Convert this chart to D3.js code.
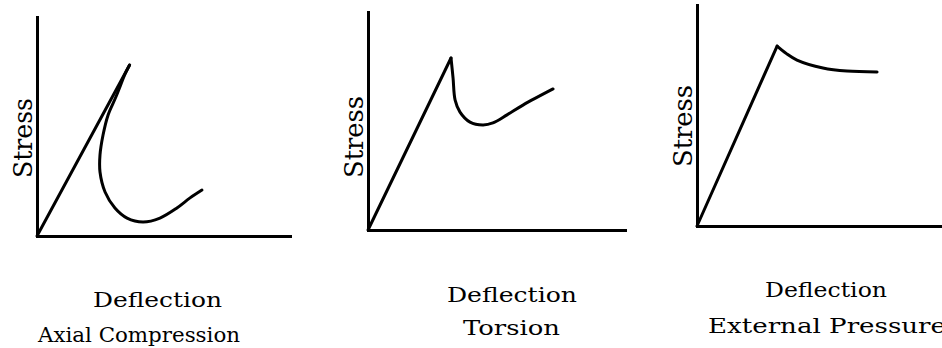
<!DOCTYPE html>
<html>
<head>
<meta charset="utf-8">
<script src="https://cdn.jsdelivr.net/npm/d3@7/dist/d3.min.js"></script>
<style>
  html, body { margin: 0; padding: 0; background: #fff; }
  svg { display: block; }
  .lab { font-family: "DejaVu Serif", "Liberation Serif", serif; font-weight: normal; fill: #000; }
</style>
</head>
<body>
<svg id="chart" width="942" height="348"></svg>
<script>
// Axis titles and load cases
const yTitle = "Stress";
const xTitle = "Deflection";
const loadCases = ["Axial Compression", "Torsion", "External Pressure"];

// Curves in relative units (deflection 0–100, stress 0–100)
const axialElastic = [[0, 0], [36.6, 78.1]];
const axialPostBuckling = [
  [36.6, 78.1], [34.6, 73.5], [32.6, 67.6], [31.0, 63.0], [28.1, 55.3],
  [26.1, 46.1], [24.9, 37.0], [24.9, 29.2], [26.9, 20.1], [30.8, 12.8],
  [35.6, 8.2], [41.9, 6.4], [48.6, 8.2], [55.3, 12.8], [60.5, 17.4], [65.2, 21.0]
];

const torsionElastic = [[0, 0], [32.3, 78.9]];
const torsionPostBuckling = [
  [32.3, 78.9], [33.1, 69.7], [33.9, 59.6], [35.8, 54.1], [39.7, 49.5],
  [44.7, 48.2], [48.6, 49.1], [54.1, 52.8], [60.3, 57.3], [72.0, 64.7]
];

const pressureElastic = [[0, 0], [32.7, 81.4]];
const pressurePostBuckling = [
  [32.7, 81.4], [36.5, 78.0], [40.8, 75.1], [51.4, 71.5], [61.2, 70.1], [73.5, 69.7]
];

// Panel frames: origin, axis ends and label placement [x, y, width] in pixels
const frames = [
  { x0: 37, x1: 290, y0: 236, y1: 17, yLab: [32, 138, 80],
    xLab: [157.5, 307, 129], caseLab: [139, 342, 202] },
  { x0: 368, x1: 625, y0: 230, y1: 12, yLab: [363, 137, 82],
    xLab: [512, 302, 130], caseLab: [511.5, 335, 97] },
  { x0: 697, x1: 942, y0: 226, y1: 5, yLab: [692, 126, 82],
    xLab: [826, 297, 122], caseLab: [827, 333, 238] }
];

const series = [
  { elastic: axialElastic, post: axialPostBuckling },
  { elastic: torsionElastic, post: torsionPostBuckling },
  { elastic: pressureElastic, post: pressurePostBuckling }
];

const svg = d3.select("#chart");

frames.forEach((f, i) => {
  const x = d3.scaleLinear().domain([0, 100]).range([f.x0, f.x1]);
  const y = d3.scaleLinear().domain([0, 100]).range([f.y0, f.y1]);
  const g = svg.append("g").attr("class", "panel");

  // Axes: bare lines without ticks
  const xAxis = g.append("g")
    .attr("transform", `translate(0,${f.y0})`)
    .call(d3.axisBottom(x).tickValues([]).tickSizeOuter(0));
  const yAxis = g.append("g")
    .attr("transform", `translate(${f.x0},0)`)
    .call(d3.axisLeft(y).tickValues([]).tickSizeOuter(0));
  [xAxis, yAxis].forEach(a => a.select(".domain")
    .attr("stroke", "#000").attr("stroke-width", 3)
    .attr("stroke-linecap", "square"));

  const straight = d3.line().x(d => x(d[0])).y(d => y(d[1]));
  const smooth = d3.line().x(d => x(d[0])).y(d => y(d[1]))
    .curve(d3.curveCatmullRom.alpha(0.5));

  g.append("path").datum(series[i].elastic)
    .attr("d", straight)
    .attr("fill", "none").attr("stroke", "#000").attr("stroke-width", 3)
    .attr("stroke-linecap", "round");
  g.append("path").datum(series[i].post)
    .attr("d", smooth)
    .attr("fill", "none").attr("stroke", "#000").attr("stroke-width", 3)
    .attr("stroke-linecap", "round").attr("stroke-linejoin", "round");

  g.append("text").attr("class", "lab")
    .attr("transform", `translate(${f.yLab[0]},${f.yLab[1]}) rotate(-90)`)
    .attr("text-anchor", "middle")
    .attr("textLength", f.yLab[2]).attr("lengthAdjust", "spacingAndGlyphs")
    .attr("font-size", 26)
    .text(yTitle);

  g.append("text").attr("class", "lab")
    .attr("x", f.xLab[0]).attr("y", f.xLab[1])
    .attr("text-anchor", "middle")
    .attr("textLength", f.xLab[2]).attr("lengthAdjust", "spacingAndGlyphs")
    .attr("font-size", 20)
    .text(xTitle);

  g.append("text").attr("class", "lab")
    .attr("x", f.caseLab[0]).attr("y", f.caseLab[1])
    .attr("text-anchor", "middle")
    .attr("textLength", f.caseLab[2]).attr("lengthAdjust", "spacingAndGlyphs")
    .attr("font-size", 20)
    .text(loadCases[i]);
});
</script>
</body>
</html>
